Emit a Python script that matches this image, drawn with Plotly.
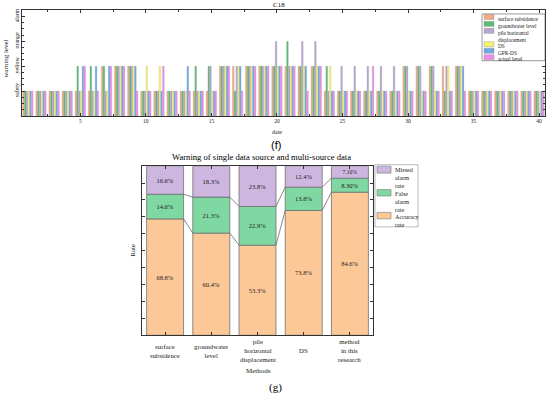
import plotly.graph_objects as go

# ---------------- data: chart (f) ----------------
dates = list(range(1, 41))
level_vals = [1, 2, 3, 4]
level_names = ["safety", "yellow", "orange", "alarm"]

f_names = ["surface subsidence", "groundwater level", "pile horizontal<br>displacement",
           "DS", "GPR-DS", "actual level"]
surface_subsidence = [1, 1, 1, 1, 1, 1, 2, 2, 2, 1, 1, 1, 1, 1, 1, 2, 2, 2, 2, 2,
                      2, 2, 2, 1, 1, 1, 1, 1, 1, 2, 2, 2, 2, 2, 1, 1, 1, 1, 1, 1]
groundwater_level = [1, 1, 1, 1, 2, 2, 2, 2, 2, 1, 1, 1, 1, 2, 2, 2, 1, 2, 2, 2,
                     3, 2, 2, 2, 1, 1, 1, 1, 1, 2, 2, 2, 1, 2, 1, 1, 1, 1, 1, 1]
pile_displacement = [1, 1, 1, 1, 1, 1, 1, 2, 2, 1, 1, 1, 1, 1, 2, 2, 2, 2, 2, 3,
                     2, 3, 3, 1, 2, 2, 2, 2, 2, 2, 2, 2, 2, 2, 1, 1, 1, 1, 1, 1]
ds_level = [1, 1, 1, 1, 1, 1, 1, 2, 2, 2, 2, 1, 1, 1, 1, 2, 2, 2, 2, 2,
            2, 2, 2, 2, 1, 1, 1, 1, 1, 1, 1, 1, 2, 2, 1, 1, 1, 1, 1, 1]
gpr_ds_level = [1, 1, 1, 1, 2, 2, 2, 2, 2, 1, 1, 1, 2, 1, 1, 2, 2, 2, 2, 2,
                2, 2, 2, 1, 1, 1, 1, 1, 1, 1, 1, 1, 1, 2, 1, 1, 1, 1, 1, 1]
actual_level = [1, 1, 1, 1, 2, 1, 2, 2, 1, 1, 2, 1, 1, 1, 1, 2, 1, 2, 2, 2,
                2, 1, 2, 1, 1, 1, 2, 1, 1, 1, 1, 1, 1, 1, 1, 1, 1, 1, 1, 1]
f_series = [surface_subsidence, groundwater_level, pile_displacement,
            ds_level, gpr_ds_level, actual_level]
f_colors = ["#F2AA7E", "#5DBB77", "#B8A6D2", "#F8F36E", "#6FA9EC", "#EE8CEB"]

# ---------------- data: chart (g) ----------------
methods = ["surface<br>subsidence", "groundwater<br>level", "pile<br>horizontal<br>displacement",
           "DS", "method<br>in this<br>research"]
accuracy = [68.8, 60.4, 53.3, 73.8, 84.6]
false_alarm = [14.6, 21.3, 22.9, 13.8, 8.30]
missed_alarm = [16.6, 18.3, 23.8, 12.4, 7.10]
accuracy_txt = ["68.8%", "60.4%", "53.3%", "73.8%", "84.6%"]
false_txt = ["14.6%", "21.3%", "22.9%", "13.8%", "8.30%"]
missed_txt = ["16.6%", "18.3%", "23.8%", "12.4%", "7.10%"]
g_names = ["Missed<br>alarm<br>rate", "False<br>alarm<br>rate", "Accuracy<br>rate"]
g_colors = ["#CDB6E0", "#7FD8A2", "#FDC898"]  # missed, false, accuracy

W, H = 550, 396
SERIF = "Liberation Serif"


def fx(px):
    return px / W


def fy(py):
    return 1 - py / H


fig = go.Figure()

# ---- chart (f) bars ----
for name, vals, col in zip(f_names, f_series, f_colors):
    fig.add_trace(go.Bar(x=dates, y=vals, name=name,
                         marker=dict(color=col, line=dict(color="#9a9a9a", width=0.2)),
                         xaxis="x", yaxis="y", showlegend=False))

# ---- chart (g) stacked bars (manual stacking via base) ----
xi = list(range(len(methods)))
cum1 = accuracy
cum2 = [a + b for a, b in zip(accuracy, false_alarm)]
zeros = [0] * len(methods)
for vals, base, txt, col, nm in [(accuracy, zeros, accuracy_txt, g_colors[2], g_names[2]),
                                 (false_alarm, cum1, false_txt, g_colors[1], g_names[1]),
                                 (missed_alarm, cum2, missed_txt, g_colors[0], g_names[0])]:
    fig.add_trace(go.Bar(x=xi, y=vals, base=base, text=txt, textposition="inside",
                         insidetextanchor="middle", textangle=0,
                         textfont=dict(family=SERIF, size=6.5, color="#222"),
                         marker=dict(color=col, line=dict(color="#707070", width=0.8)),
                         name=nm, xaxis="x2", yaxis="y2", showlegend=False, width=0.8,
                         offsetgroup="g"))

# connecting lines between stacked bars
for cum in (cum1, cum2):
    lx, ly = [], []
    for i in range(len(cum) - 1):
        lx += [i + 0.4, i + 1 - 0.4, None]
        ly += [cum[i], cum[i + 1], None]
    fig.add_trace(go.Scatter(x=lx, y=ly, mode="lines", line=dict(color="#6a6a6a", width=0.8),
                             xaxis="x2", yaxis="y2", showlegend=False, hoverinfo="skip"))

axcol = "#333"
fig.update_layout(
    width=W, height=H, margin=dict(l=0, r=0, t=0, b=0),
    paper_bgcolor="white", plot_bgcolor="white",
    barmode="group", bargap=0.2, bargroupgap=0.0,
    font=dict(family=SERIF, color="#222"),
    xaxis=dict(domain=[fx(22), fx(545)], range=[0.55, 40.45], tickmode="linear", tick0=0, dtick=5,
               ticks="inside", ticklen=3, tickwidth=0.6, tickcolor=axcol, showline=True, linecolor=axcol,
               linewidth=0.8, mirror="allticks", showgrid=False, zeroline=False,
               tickfont=dict(family=SERIF, size=5.5),
               minor=dict(tickmode="linear", tick0=0, dtick=2.5, ticks="inside", ticklen=2, tickcolor=axcol)),
    yaxis=dict(domain=[fy(114.5), fy(8)], range=[0, 4.26], tickmode="array", tickvals=level_vals,
               ticktext=level_names, tickangle=-90, ticks="inside", ticklen=3, tickwidth=0.6, tickcolor=axcol,
               showline=True, linecolor=axcol, linewidth=0.8, mirror="allticks", showgrid=False,
               zeroline=False, tickfont=dict(family=SERIF, size=6),
               minor=dict(tickmode="linear", tick0=0, dtick=0.25, ticks="inside", ticklen=2, tickcolor=axcol)),
    xaxis2=dict(domain=[fx(142), fx(373)], range=[-0.5, 4.5], tickmode="array", tickvals=xi,
                showticklabels=False, ticks="inside", ticklen=3, tickcolor=axcol, showline=True,
                linecolor=axcol, linewidth=0.8, mirror="allticks", showgrid=False, zeroline=False,
                anchor="y2"),
    yaxis2=dict(domain=[fy(335), fy(165)], range=[0, 100], tickmode="linear", tick0=0, dtick=10,
                showticklabels=False, ticks="inside", ticklen=3, tickcolor=axcol, showline=True,
                linecolor=axcol, linewidth=0.8, mirror="allticks", showgrid=False, zeroline=False,
                anchor="x2"),
)

ann = []
shapes = []
# titles / axis labels
ann.append(dict(text="C18", x=fx(279), y=fy(3.5), font=dict(size=7, color="#000")))
ann.append(dict(text="warning level", x=fx(6), y=fy(57), textangle=-90, font=dict(size=7)))
ann.append(dict(text="date", x=fx(277), y=fy(131), font=dict(size=6)))
ann.append(dict(text="(f)", x=fx(276), y=fy(144), font=dict(family="Liberation Sans", size=11, color="#000")))
ann.append(dict(text="Warning of single data source and multi-source data", x=fx(261), y=fy(156),
                font=dict(size=8.6, color="#000")))
ann.append(dict(text="Rate", x=fx(133), y=fy(250), textangle=-90, font=dict(size=7)))
ann.append(dict(text="Methods", x=fx(258), y=fy(371), font=dict(size=7)))
ann.append(dict(text="(g)", x=fx(275.5), y=fy(387), font=dict(size=11, color="#000")))
for i, m in enumerate(methods):
    ann.append(dict(text=m, x=i, xref="x2", y=fy(350.5), font=dict(size=6.8)))

# legend (f)
shapes.append(dict(type="rect", xref="paper", yref="paper", x0=fx(482), x1=fx(545), y0=fy(59), y1=fy(12),
                   line=dict(color="#555", width=0.6), fillcolor="white"))
f_leg_y = [15, 22, 29, 42.5, 49, 55.5]
for nm, col, ly in zip(f_names, f_colors, f_leg_y):
    shapes.append(dict(type="rect", xref="paper", yref="paper", x0=fx(484), x1=fx(494), y0=fy(ly + 2.5),
                       y1=fy(ly - 2.5), line=dict(color="#888", width=0.4), fillcolor=col))
    ann.append(dict(text=nm, x=fx(496), y=fy(ly - 3), xanchor="left", yanchor="top", align="left",
                    font=dict(size=5.3)))

# legend (g)
shapes.append(dict(type="rect", xref="paper", yref="paper", x0=fx(375), x1=fx(418), y0=fy(226), y1=fy(163.5),
                   line=dict(color="#888", width=0.6), fillcolor="white"))
g_leg = [(g_names[0], g_colors[0], 165, 172, 163), (g_names[1], g_colors[1], 188.5, 195, 187),
         (g_names[2], g_colors[2], 211.5, 218, 210)]
for nm, col, y0, y1, ty in g_leg:
    shapes.append(dict(type="rect", xref="paper", yref="paper", x0=fx(377), x1=fx(391), y0=fy(y1),
                       y1=fy(y0), line=dict(color="#777", width=0.6), fillcolor=col))
    ann.append(dict(text=nm, x=fx(393), y=fy(ty), xanchor="left", yanchor="top", align="left",
                    font=dict(size=6.2)))

for a in ann:
    a.setdefault("xref", "paper")
    a.setdefault("yref", "paper")
    a.setdefault("showarrow", False)
    a.setdefault("xanchor", "center")
    a.setdefault("yanchor", "middle")
fig.update_layout(annotations=ann, shapes=shapes)

fig.write_html("out.html", config={"displayModeBar": False},
               post_script="document.body.style.margin='0';document.body.style.overflow='hidden';")
